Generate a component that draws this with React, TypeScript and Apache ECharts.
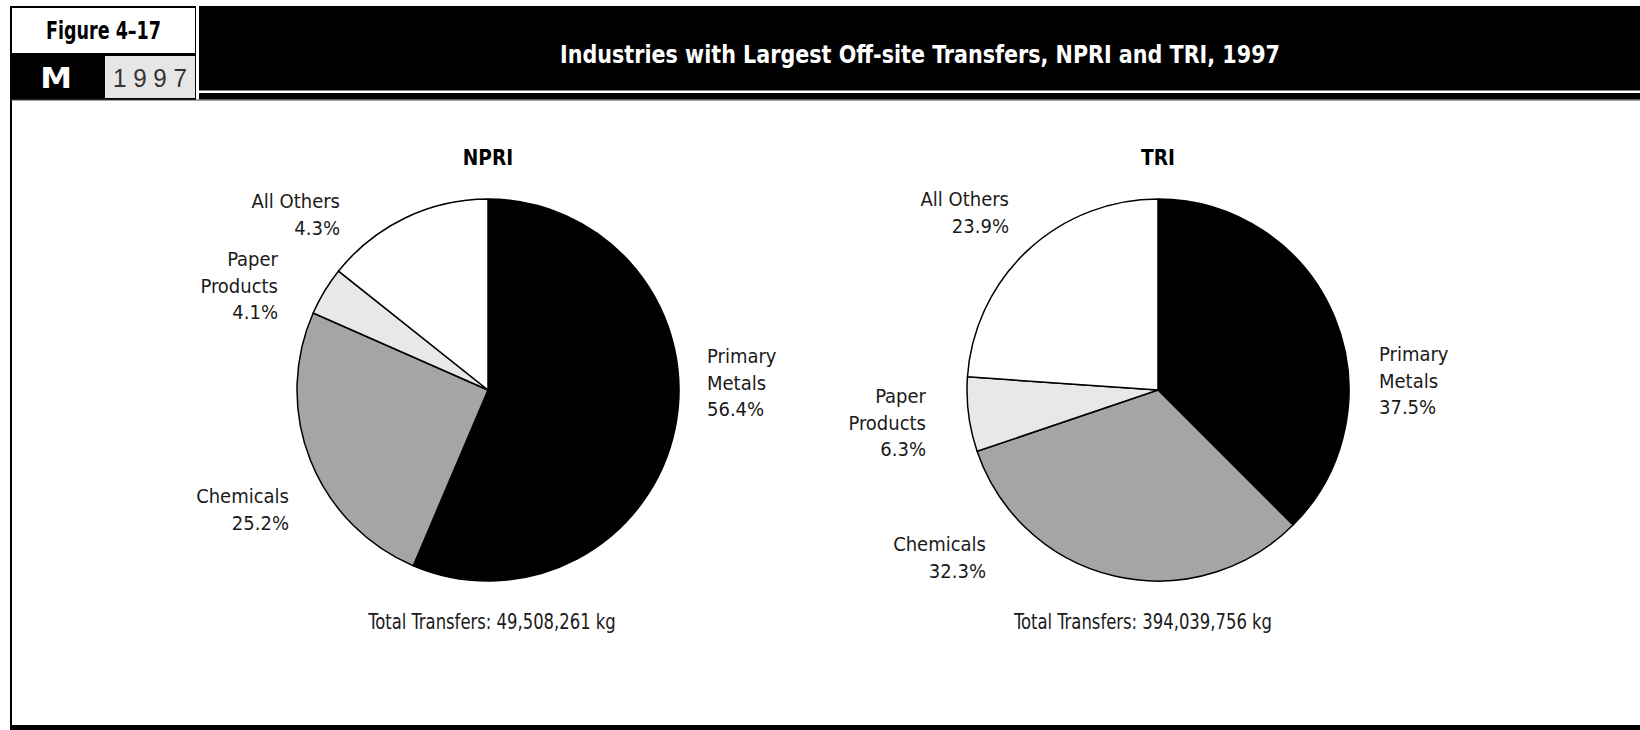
import React, { useEffect, useRef } from "react";
import * as echarts from "echarts";

// ---- data ----
const categories = ["Primary Metals", "Chemicals", "Paper Products", "All Others"];
const categoryLabels = ["Primary\nMetals", "Chemicals", "Paper\nProducts", "All Others"];
// slice shares as drawn in the picture (NPRI "All Others" slice is drawn at ~14.3%)
const npriShares = [56.4, 25.2, 4.1, 14.3];
// percentages as printed next to the slices
const npriPrinted = ["56.4%", "25.2%", "4.1%", "4.3%"];
const triShares = [37.5, 32.3, 6.3, 23.9];
const triPrinted = ["37.5%", "32.3%", "6.3%", "23.9%"];
const npriTotal = "Total Transfers: 49,508,261 kg";
const triTotal = "Total Transfers: 394,039,756 kg";
const mainTitle = "Industries with Largest Off-site Transfers, NPRI and TRI, 1997";

// ---- styles / layout ----
const sliceColors = ["#000000", "#a5a5a5", "#e8e8e8", "#ffffff"];
const NARROW = "'DejaVu Sans Condensed', 'Liberation Sans Narrow', 'Arial Narrow', sans-serif";
const TEXT = "#1a1a1a";
const R = 191;
const PIES = [
  { name: "NPRI", center: [488, 390], totalX: 492, shares: npriShares, printed: npriPrinted, total: npriTotal },
  { name: "TRI", center: [1158, 390], totalX: 1143, shares: triShares, printed: triPrinted, total: triTotal },
];
// label anchors (top of first line) per pie, per category
const LABEL_POS = [
  [
    { x: 707, y: 343, align: "left" },
    { x: 289, y: 483, align: "right" },
    { x: 278, y: 246, align: "right" },
    { x: 340, y: 188, align: "right" },
  ],
  [
    { x: 1379, y: 341, align: "left" },
    { x: 986, y: 531, align: "right" },
    { x: 926, y: 383, align: "right" },
    { x: 1009, y: 186, align: "right" },
  ],
];

function txt(
  text: string,
  x: number,
  y: number,
  font: string,
  fill: string,
  scaleX = 1,
  align = "center"
) {
  return {
    type: "text",
    x,
    y,
    scaleX,
    silent: true,
    style: {
      text,
      font,
      fill,
      align,
      textAlign: align,
      verticalAlign: "middle",
      textVerticalAlign: "middle",
    },
  };
}

export default function App() {
  const ref = useRef<HTMLDivElement>(null);
  useEffect(() => {
    if (!ref.current) return;
    const chart = echarts.init(ref.current, undefined, { renderer: "svg" });
    const series = PIES.map((p, si) => ({
      type: "pie",
      name: p.name,
      center: p.center,
      radius: R,
      startAngle: 90,
      clockwise: true,
      silent: true,
      avoidLabelOverlap: false,
      itemStyle: { borderColor: "#000", borderWidth: 1.5 },
      label: {
        show: true,
        position: "outside",
        color: TEXT,
        fontFamily: NARROW,
        fontSize: 20,
        lineHeight: 26.5,
        formatter: (params: any) =>
          `${categoryLabels[params.dataIndex]}\n${p.printed[params.dataIndex]}`,
      },
      labelLine: { show: false },
      labelLayout: (params: any) => {
        const pos = LABEL_POS[si][params.dataIndex];
        return { x: pos.x, y: pos.y, align: pos.align, verticalAlign: "top" };
      },
      data: categories.map((c, i) => ({
        name: c,
        value: p.shares[i],
        itemStyle: { color: sliceColors[i] },
        label: { align: LABEL_POS[si][i].align },
      })),
    }));

    const graphic: any[] = [
      // frame
      { type: "rect", silent: true, shape: { x: 10, y: 100, width: 2, height: 630 }, style: { fill: "#000" } },
      { type: "rect", silent: true, shape: { x: 10, y: 725, width: 1630, height: 5 }, style: { fill: "#000" } },
      // header blocks
      { type: "rect", silent: true, shape: { x: 10, y: 6, width: 186, height: 94 }, style: { fill: "#000" } },
      { type: "rect", silent: true, shape: { x: 199, y: 6, width: 1441, height: 84.5 }, style: { fill: "#000" } },
      { type: "rect", silent: true, shape: { x: 199, y: 93, width: 1441, height: 6.5 }, style: { fill: "#000" } },
      { type: "rect", silent: true, shape: { x: 10, y: 99.5, width: 1630, height: 1 }, style: { fill: "#444" } },
      { type: "rect", silent: true, shape: { x: 12, y: 8, width: 183, height: 45 }, style: { fill: "#fff" } },
      { type: "rect", silent: true, shape: { x: 105, y: 56, width: 90, height: 42 }, style: { fill: "#e6e6e6" } },
      txt("Figure 4–17", 103.5, 30, `bold 25px ${NARROW}`, "#000", 0.78),
      txt("M", 56, 78, "bold 29px 'DejaVu Sans', sans-serif", "#fff", 1.1),
      txt("1 9 9 7", 150, 78, "25px 'Liberation Sans', Arial, sans-serif", "#333", 0.97),
      txt(mainTitle, 920, 55, `bold 25px ${NARROW}`, "#fff", 0.92),
    ];
    PIES.forEach((p) => {
      graphic.push(txt(p.name, p.center[0], 157.5, `bold 22px ${NARROW}`, "#000", 0.94));
      graphic.push(txt(p.total, p.totalX, 622.5, `21px ${NARROW}`, TEXT, 0.87));
    });

    chart.setOption({
      animation: false,
      backgroundColor: "#fff",
      series,
      graphic,
    });
    return () => chart.dispose();
  }, []);
  return (
    <div
      ref={ref}
      style={{ position: "fixed", left: 0, top: 0, width: 1640, height: 730, background: "#fff" }}
    />
  );
}
